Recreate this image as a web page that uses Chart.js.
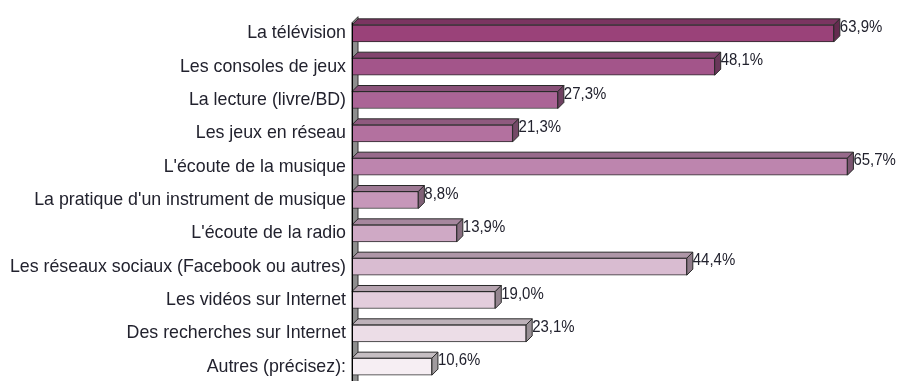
<!DOCTYPE html>
<html>
<head>
<meta charset="utf-8">
<script src="https://cdn.jsdelivr.net/npm/chart.js@4/dist/chart.umd.min.js"></script>
<style>
    html, body { margin: 0; padding: 0; background: #fff; overflow: hidden; }
    #wrap { position: relative; width: 910px; height: 400px; }
</style>
</head>
<body>
<div id="wrap"><canvas id="loisirsChart"></canvas></div>
<script>
// DATA

const categories = [
    'La télévision',
    'Les consoles de jeux',
    'La lecture (livre/BD)',
    'Les jeux en réseau',
    "L'écoute de la musique",
    "La pratique d'un instrument de musique",
    "L'écoute de la radio",
    'Les réseaux sociaux (Facebook ou autres)',
    'Les vidéos sur Internet',
    'Des recherches sur Internet',
    'Autres (précisez):'
];

const percentages = [63.9, 48.1, 27.3, 21.3, 65.7, 8.8, 13.9, 44.4, 19.0, 23.1, 10.6];

const barColors = [
    '#9a4279', '#a3558a', '#ab6496', '#b3719f', '#bd85ae', '#c697b9',
    '#cfa9c5', '#d9bcd1', '#e3cddc', '#ecdde7', '#f6eef3'
];

const DEPTH = 6;

function shade(hex, f) {
    const n = parseInt(hex.slice(1), 16);
    const r = Math.round(((n >> 16) & 255) * f);
    const g = Math.round(((n >> 8) & 255) * f);
    const b = Math.round((n & 255) * f);
    return 'rgb(' + r + ',' + g + ',' + b + ')';
}

// 3D AXIS WALL + BAR FACES + VALUE LABELS

const bars3d = {
    id: 'bars3d',
    beforeDatasetsDraw(chart) {
        const ctx = chart.ctx;
        const area = chart.chartArea;
        const x0 = chart.scales.x.getPixelForValue(0);
        ctx.save();
        ctx.fillStyle = '#8e8e8e';
        ctx.strokeStyle = '#333';
        ctx.lineWidth = 1;
        ctx.beginPath();
        ctx.moveTo(x0, area.top + DEPTH);
        ctx.lineTo(x0 + DEPTH, area.top);
        ctx.lineTo(x0 + DEPTH, chart.height);
        ctx.lineTo(x0, chart.height);
        ctx.closePath();
        ctx.fill();
        ctx.stroke();
        ctx.restore();
    },
    afterDatasetsDraw(chart) {
        const ctx = chart.ctx;
        const meta = chart.getDatasetMeta(0);
        ctx.save();
        ctx.lineWidth = 1;
        ctx.strokeStyle = '#2a2a2a';
        meta.data.forEach((bar, i) => {
            const top = bar.y - bar.height / 2;
            const bottom = bar.y + bar.height / 2;
            const left = bar.base;
            const right = bar.x;
            const col = barColors[i];

            // top face
            ctx.fillStyle = shade(col, 0.8);
            ctx.beginPath();
            ctx.moveTo(left, top);
            ctx.lineTo(left + DEPTH, top - DEPTH);
            ctx.lineTo(right + DEPTH, top - DEPTH);
            ctx.lineTo(right, top);
            ctx.closePath();
            ctx.fill();
            ctx.stroke();

            // side face
            ctx.fillStyle = shade(col, 0.65);
            ctx.beginPath();
            ctx.moveTo(right, top);
            ctx.lineTo(right + DEPTH, top - DEPTH);
            ctx.lineTo(right + DEPTH, bottom - DEPTH);
            ctx.lineTo(right, bottom);
            ctx.closePath();
            ctx.fill();
            ctx.stroke();

            // value, slightly narrowed
            const label = percentages[i].toFixed(1).replace('.', ',') + '%';
            ctx.save();
            ctx.translate(right + DEPTH, bar.y - 6);
            ctx.scale(0.88, 1);
            ctx.fillStyle = '#22222e';
            ctx.font = '17px "Liberation Sans", Arial, sans-serif';
            ctx.textAlign = 'left';
            ctx.textBaseline = 'middle';
            ctx.fillText(label, 0, 0);
            ctx.restore();
        });

        // axis line
        const x0 = chart.scales.x.getPixelForValue(0);
        ctx.strokeStyle = '#000';
        ctx.beginPath();
        ctx.moveTo(x0 + 0.5, chart.chartArea.top + DEPTH);
        ctx.lineTo(x0 + 0.5, chart.height);
        ctx.stroke();
        ctx.restore();
    }
};

// CHART

const ctx = document.getElementById('loisirsChart').getContext('2d');

new Chart(ctx, {
    type: 'bar',
    data: {
        labels: categories,
        datasets: [{
            data: percentages,
            backgroundColor: barColors,
            borderColor: '#2a2a2a',
            borderWidth: 1,
            borderSkipped: false,
            barThickness: 17
        }]
    },
    options: {
        indexAxis: 'y',
        responsive: true,
        maintainAspectRatio: false,
        animation: false,
        layout: { padding: { top: 12, right: 0, bottom: 0, left: 0 } },
        plugins: {
            legend: { display: false },
            tooltip: { enabled: false }
        },
        scales: {
            x: {
                display: false,
                min: 0,
                max: 74
            },
            y: {
                afterFit(scale) { scale.width = 352; },
                grid: { display: false, drawTicks: false },
                border: { display: false },
                ticks: {
                    padding: 6,
                    color: '#22222e',
                    font: { family: '"Liberation Sans", Arial, sans-serif', size: 17.8 }
                }
            }
        }
    },
    plugins: [bars3d]
});
</script>
</body>
</html>
